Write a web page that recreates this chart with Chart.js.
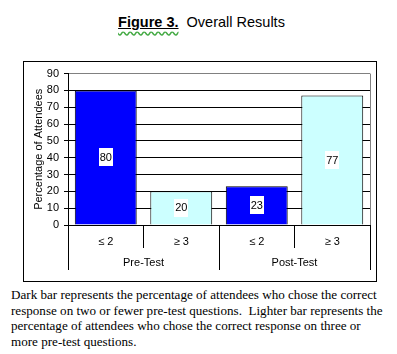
<!DOCTYPE html>
<html>
<head>
<meta charset="utf-8">
<script src="https://cdn.jsdelivr.net/npm/chart.js@4/dist/chart.umd.min.js"></script>
<style>
  body { margin: 0; background: #fff; width: 397px; height: 354px; position: relative; overflow: hidden; }
  #title { position: absolute; left: 3px; top: 14px; width: 397px; text-align: center;
           font: 14.5px "Liberation Sans", Arial, sans-serif; line-height: 17px; color: #000; white-space: pre; }
  #title .fig { text-decoration: underline wavy #4a4; text-underline-offset: 4px; }
  #title .fig b { text-decoration: underline #000; text-underline-offset: 1px; }
  #box { position: absolute; left: 23px; top: 61px; width: 354px; height: 221px;
         border: 1px solid #000; box-sizing: border-box; }
  #box canvas { position: absolute; left: 0; top: 0; }
  #caption { position: absolute; left: 11px; top: 287px; font: 13.1px "Liberation Serif", "Times New Roman", serif;
             line-height: 15.5px; color: #000; white-space: nowrap; }
</style>
</head>
<body>
<div id="title"><span class="fig"><b>Figure 3.</b></span>  Overall Results</div>
<div id="box"><canvas id="resultsChart" width="352" height="219"></canvas></div>
<div id="caption">Dark bar represents the percentage of attendees who chose the correct<br>response on two or fewer pre-test questions.&nbsp; Lighter bar represents the<br>percentage of attendees who chose the correct response on three or<br>more pre-test questions.</div>
<script>
// data
const categories = ['≤ 2', '≥ 3', '≤ 2', '≥ 3'];
const groups = ['Pre-Test', 'Post-Test'];
const percentages = [80, 20, 23, 77];
const yTicks = [0, 10, 20, 30, 40, 50, 60, 70, 80, 90];

const DARK = '#0000FF';
const LIGHT = '#CCFFFF';
const FONT = { family: '"Liberation Sans", Arial, sans-serif', size: 11 };

// white boxed value labels in the middle of each bar
const valueLabels = {
  id: 'valueLabels',
  afterDatasetsDraw(chart) {
    const ctx = chart.ctx;
    const meta = chart.getDatasetMeta(0);
    ctx.save();
    ctx.font = '11px "Liberation Sans", Arial, sans-serif';
    ctx.textAlign = 'center';
    ctx.textBaseline = 'middle';
    meta.data.forEach((bar, i) => {
      const txt = String(percentages[i]);
      const cy = (bar.y + bar.base) / 2;
      const w = ctx.measureText(txt).width + 2;
      ctx.fillStyle = '#fff';
      ctx.fillRect(Math.round(bar.x - w / 2), Math.round(cy - 9), Math.round(w), 18);
      ctx.fillStyle = '#000';
      ctx.fillText(txt, bar.x, cy + 0.5);
    });
    ctx.restore();
  }
};

new Chart(document.getElementById('resultsChart'), {
  type: 'bar',
  data: {
    labels: categories,
    datasets: [{
      data: percentages,
      backgroundColor: [DARK, LIGHT, DARK, LIGHT],
      borderColor: '#000',
      borderWidth: 1,
      categoryPercentage: 1,
      barPercentage: 0.82
    }]
  },
  options: {
    responsive: false,
    animation: false,
    devicePixelRatio: 1,
    layout: { padding: { left: 0, top: 11, right: 6, bottom: 11 } },
    plugins: { legend: { display: false }, tooltip: { enabled: false } },
    scales: {
      y: {
        min: 0, max: 90,
        afterBuildTicks: s => { s.ticks = yTicks.map(v => ({ value: v })); },
        afterFit: s => { s.width = 44; },
        ticks: { color: '#000', font: FONT, padding: 5 },
        grid: {
          color: c => (c.tick && c.tick.value === 90) ? '#808080' : '#000',
          tickColor: '#000',
          tickLength: 4,
          lineWidth: 1
        },
        border: { color: '#000', width: 1 },
        title: { display: true, text: 'Percentage of Attendees', color: '#000', font: FONT, padding: { top: 8.4, bottom: 0 } }
      },
      x: {
        weight: 0,
        offset: true,
        afterFit: s => { s.height = 23; },
        ticks: { color: '#000', font: FONT, padding: -13.1, autoSkip: false, maxRotation: 0 },
        grid: {
          offset: true,
          drawOnChartArea: true,
          color: c => c.type === 'scale' ? '#808080' : 'rgba(0,0,0,0)',
          tickColor: '#000',
          tickLength: 23
        },
        border: { color: '#000', width: 1 }
      },
      x2: {
        type: 'category',
        position: 'bottom',
        weight: 1,
        labels: groups,
        offset: true,
        afterFit: s => { s.height = 22; },
        ticks: { color: '#000', font: FONT, padding: -14.1, autoSkip: false, maxRotation: 0 },
        grid: { offset: true, drawOnChartArea: false, color: '#000', tickColor: '#000', tickLength: 22 },
        border: { display: false }
      }
    }
  },
  plugins: [valueLabels]
});
</script>
</body>
</html>
